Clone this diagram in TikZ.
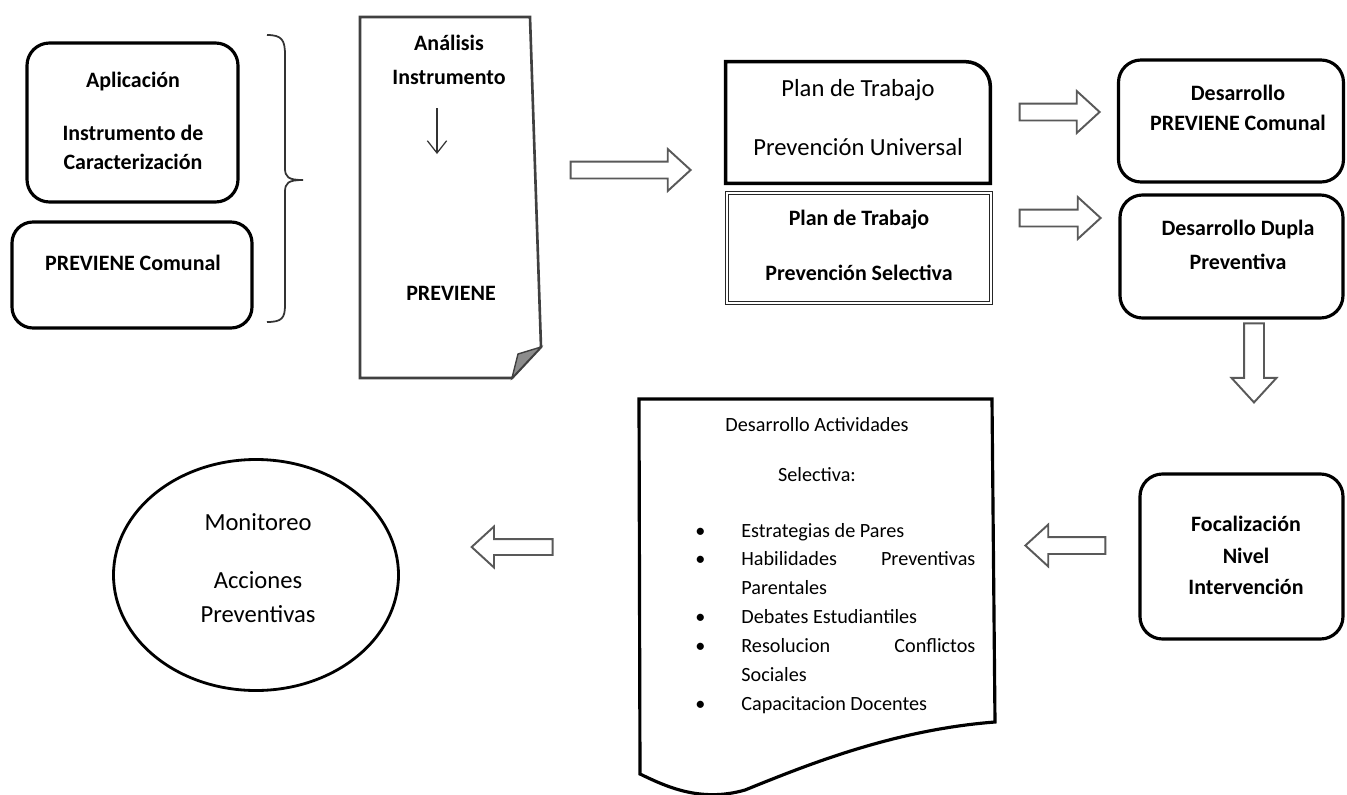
\documentclass[tikz,border=0pt]{standalone}
\usepackage{fontspec}
\setmainfont{Carlito}
\usetikzlibrary{shapes.geometric,shapes.arrows,arrows.meta}
\newcommand{\PX}{0.02cm}
\begin{document}
\begin{tikzpicture}[x=0.02cm,y=-0.02cm,
  box/.style={draw=black,line width=1.8pt,rounded corners=0.45cm,inner sep=0},
  txtb/.style={align=center,font=\bfseries\fontsize{12.5}{17}\selectfont,inner sep=0},
  txtr/.style={align=center,font=\fontsize{14}{19}\selectfont,inner sep=0},
  blockarrow/.style={shape=single arrow,draw=black!65,line width=1.1pt,fill=white,
    single arrow tip angle=85,inner sep=0.15cm},
]
\useasboundingbox (0,0) rectangle (1347,795);

% left boxes
\node[box,minimum width=211*\PX,minimum height=159*\PX] (apl) at (132.5,122.5) {};
\node[txtb] (aplT) at (133,121) {Aplicación\\[13pt]Instrumento de\\Caracterización};
\node[box,rounded corners=0.42cm,minimum width=240*\PX,minimum height=106*\PX] (prc) at (132,275) {};
\node[txtb] (prcT) at (133,263) {PREVIENE Comunal};

% brace
\draw[line width=1pt,black!80] (267,35) .. controls (282,35) and (285,40) .. (285,55) -- (285,168)
   .. controls (285,177) and (288,180) .. (303,180)
   .. controls (288,180) and (285,183) .. (285,192) -- (285,305)
   .. controls (285,318) and (282,322) .. (267,322);

% document Analisis
\draw[line width=1.5pt,draw=black!75,fill=white] (360,17) -- (530,17) -- (541,347) -- (512,378) -- (360,378) -- cycle;
\draw[line width=0.8pt,draw=black!75,fill=black!45] (541,347) -- (518,354) -- (512,378) -- cycle;
\node[txtb,font=\bfseries\fontsize{12.5}{19}\selectfont] (anaT) at (449,60) {Análisis\\Instrumento};
\coordinate (anaA) at (437,108);
\coordinate (anaB) at (437,154);
\draw[line width=0.7pt,black!80,-{Straight Barb[length=7pt,width=11pt]}] (anaA) -- (anaB);
\node[txtb] (anaP) at (451,293) {PREVIENE};

% big arrow
\node[blockarrow,inner sep=0.15cm,minimum height=120*\PX,minimum width=32*\PX] (a0) at (626,170) {};

% plan boxes
\node[inner sep=0,minimum width=264*\PX,minimum height=121*\PX] (pu) at (858,122.5) {};
\draw[line width=2pt] (pu.south west) -- (pu.north west) -- ([xshift=-0.5cm]pu.north east)
   arc[start angle=90,end angle=0,radius=0.5cm] -- (pu.south east) -- cycle;
\node[txtr] (puT) at (858,117.5) {Plan de Trabajo\\[14.5pt]Prevención Universal};
\node[draw=black!85,double,double distance=0.7pt,line width=1pt,inner sep=0,
      minimum width=264*\PX,minimum height=110*\PX] (ps) at (859,248) {};
\node[txtb] (psT) at (859,245.5) {Plan de Trabajo\\[14pt]Prevención Selectiva};

% right arrows
\node[blockarrow,minimum height=80*\PX,minimum width=31*\PX] (a1) at (1055,112) {};
\node[blockarrow,minimum height=81*\PX,minimum width=31*\PX] (a2) at (1055.5,218) {};

% right boxes
\node[box,minimum width=225*\PX,minimum height=122*\PX] (dpc) at (1231,121) {};
\node[txtb] (dpcT) at (1238,108) {Desarrollo\\PREVIENE Comunal};
\node[box,minimum width=223*\PX,minimum height=123*\PX] (ddp) at (1231.5,256.5) {};
\node[txtb,font=\bfseries\fontsize{12.5}{19.3}\selectfont] (ddpT) at (1238,245) {Desarrollo Dupla\\Preventiva};

% down arrow
\node[blockarrow,shape border rotate=270,inner sep=0.18cm,minimum height=79*\PX,minimum width=32*\PX] (a3) at (1254,357.5) {};

% focalizacion
\node[box,minimum width=203*\PX,minimum height=165*\PX] (foc) at (1241.5,556.5) {};
\node[txtb,font=\bfseries\fontsize{12.5}{18}\selectfont] (focT) at (1246,555.5) {Focalización\\Nivel\\Intervención};

% left arrows
\node[blockarrow,shape border rotate=180,minimum height=80*\PX,minimum width=33*\PX] (a4) at (1070,545.5) {};
\node[blockarrow,shape border rotate=180,inner sep=0.14cm,minimum height=81*\PX,minimum width=34*\PX] (a5) at (516.5,547) {};

% activities document
\draw[line width=1.8pt] (639,399) -- (992,399) -- (995,722)
   .. controls (890,730) and (800,768) .. (745,790)
   .. controls (700,803) and (665,786) .. (640,774) -- cycle;
\node[inner sep=0,font=\fontsize{11.5}{16}\selectfont] (actT1) at (817,425) {Desarrollo Actividades};
\node[inner sep=0,font=\fontsize{11.5}{16}\selectfont] (actT2) at (817,475) {Selectiva:};
\node[anchor=north west,inner sep=0,text width=234*\PX,align=justify,
      font=\fontsize{11.5}{16.4}\selectfont] (list) at (741,508)
{\hyphenpenalty=10000\exhyphenpenalty=10000
\begin{list}{\textbullet}{\setlength{\leftmargin}{0pt}\setlength{\labelwidth}{0.3cm}%
 \setlength{\labelsep}{0.72cm}\setlength{\itemsep}{0pt}\setlength{\parsep}{0pt}%
 \setlength{\topsep}{0pt}\setlength{\partopsep}{0pt}}
\item Estrategias de Pares
\item Habilidades Preventivas Parentales
\item Debates Estudiantiles
\item Resolucion Conflictos Sociales
\item Capacitacion Docentes
\end{list}};

% ellipse
\node[draw,ellipse,line width=1.6pt,minimum width=285*\PX,minimum height=231*\PX,inner sep=0] (mon) at (256,575) {};
\node[txtr,font=\fontsize{14}{19.3}\selectfont] (monT) at (258,568) {Monitoreo\\[14pt]Acciones\\Preventivas};
\end{tikzpicture}
\end{document}
